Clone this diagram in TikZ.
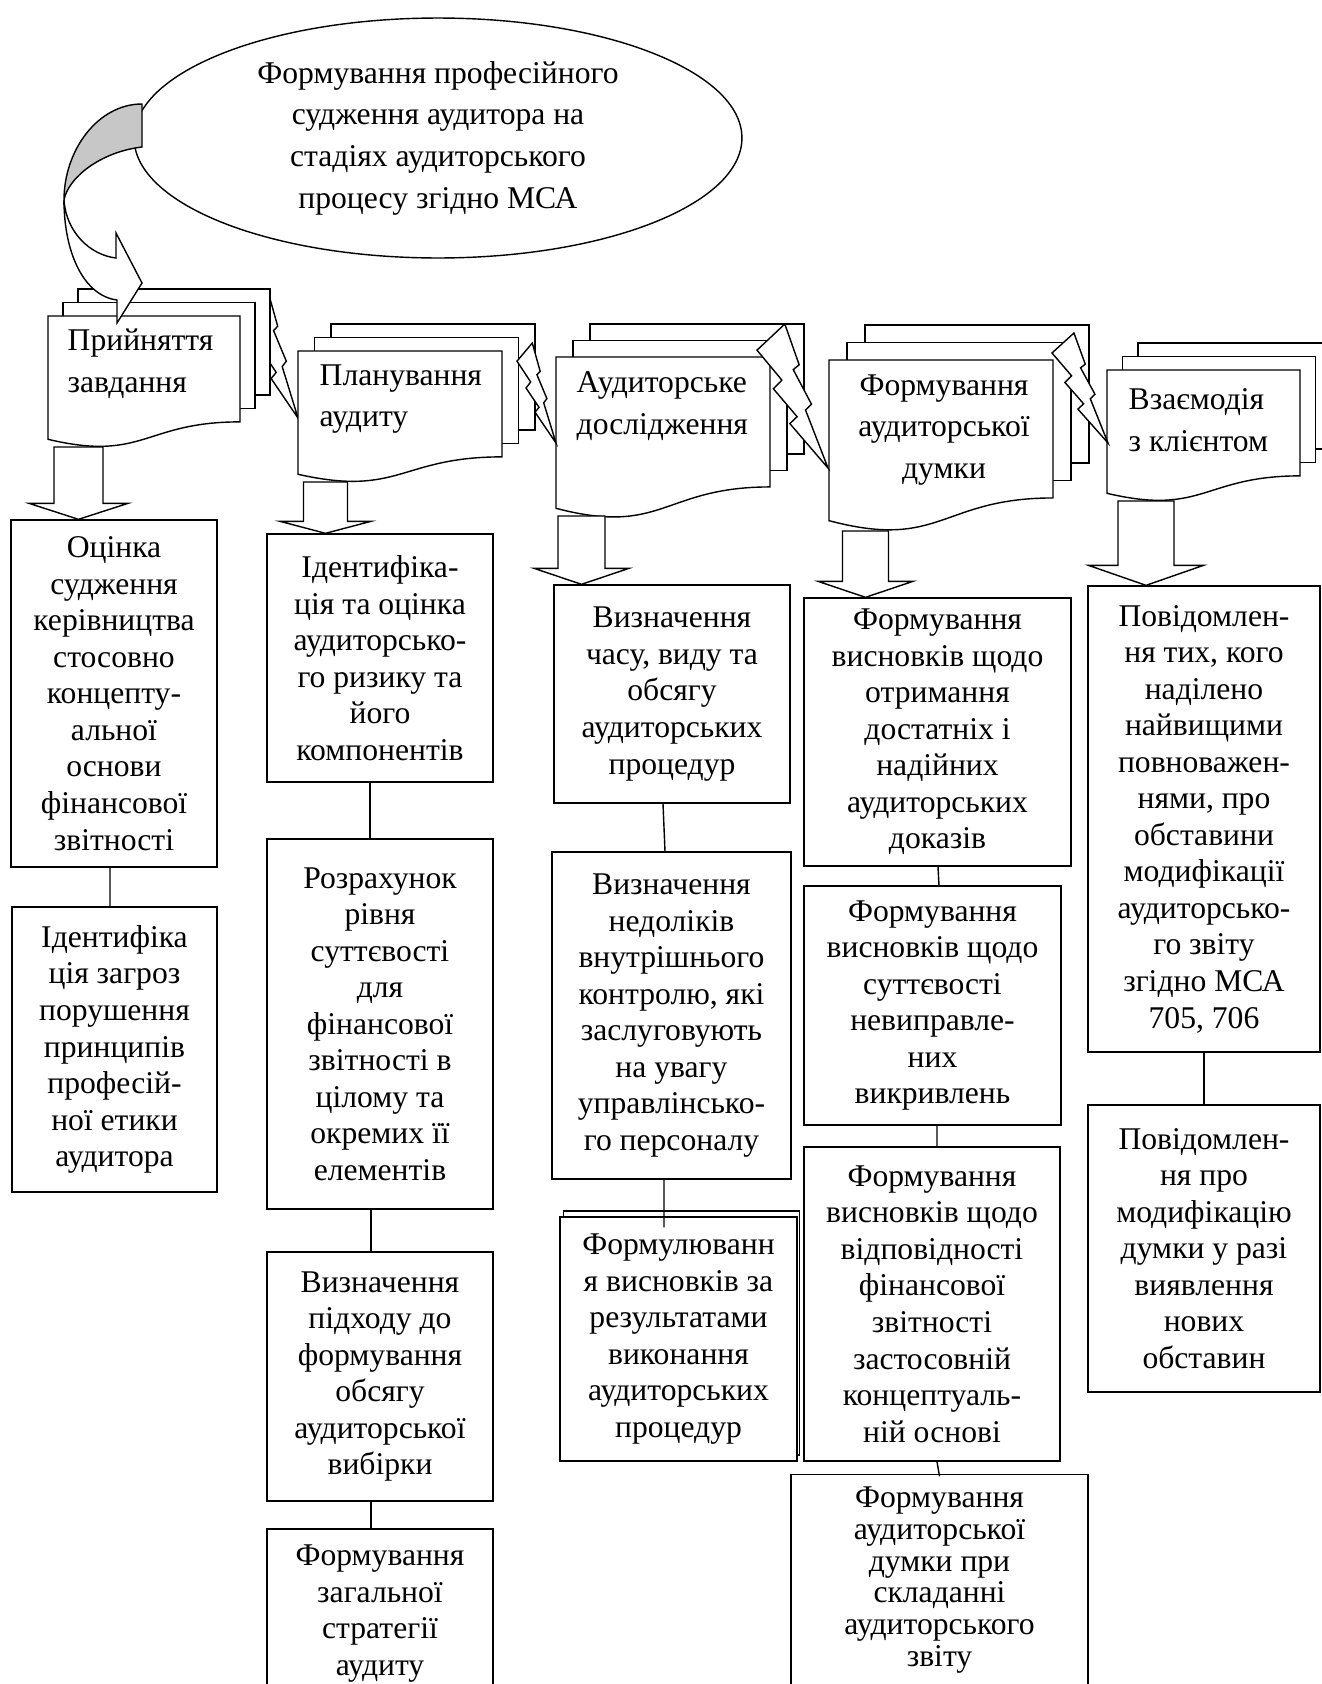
\documentclass[tikz,border=0pt]{standalone}
\usepackage{fontspec}
\setmainfont{Liberation Serif}
\usetikzlibrary{shapes.geometric,calc}

\tikzset{
  box/.style={draw, fill=white, align=center, inner sep=1pt, font=\fontsize{18}{20.8}\selectfont},
  sheet/.style={draw, fill=white},
  htext/.style={inner sep=0pt, font=\fontsize{18}{23.7}\selectfont},
  boltline/.style={draw, fill=white},
  blockarr/.style n args={3}{draw, fill=white,
    to path={let \p1=(\tikztostart), \p2=(\tikztotarget) in
      (\x1-#1,\y1) -- (\x1+#1,\y1) -- (\x1+#1,\y2+#3) -- (\x1+#2,\y2+#3) -- (\x1,\y2)
      -- (\x1-#2,\y2+#3) -- (\x1-#1,\y2+#3) -- cycle}}
}

% stack of sheets: name, left, top, width, height, dx, dy
\newcommand{\docstack}[7]{%
  \foreach \sh in {2,1}
    \draw[sheet] (#2+\sh*#6,#3-\sh*#7) rectangle (#2+#4+\sh*#6,#3+0.802*#5-\sh*#7);
  \draw[sheet] (#2,#3) -- (#2+#4,#3) -- (#2+#4,#3+0.802*#5)
    .. controls (#2+0.5*#4,#3+0.802*#5) and (#2+0.5*#4,#3+1.1075*#5) .. (#2,#3+0.934*#5) -- cycle;
  \coordinate (#1) at (#2,#3);
}

% lightning: left, top, width, height
\newcommand{\lightning}[4]{%
  \draw[boltline] (#1+0.3916*#3,#2) -- (#1,#2+0.1816*#4) -- (#1+0.3502*#3,#2+0.3896*#4)
    -- (#1+0.2312*#3,#2+0.45*#4) -- (#1+0.5647*#3,#2+0.6437*#4) -- (#1+0.4624*#3,#2+0.6914*#4)
    -- (#1+#3,#2+#4) -- (#1+0.6837*#3,#2+0.5977*#4) -- (#1+0.7666*#3,#2+0.5563*#4)
    -- (#1+0.5106*#3,#2+0.3167*#4) -- (#1+0.594*#3,#2+0.2833*#4) -- cycle;
}

\begin{document}
\begin{tikzpicture}[x=0.02cm, y=-0.02cm, line width=0.8pt]
  \useasboundingbox (0,0) rectangle (1322,1684);
  \clip (0,0) rectangle (1322,1684);

  \node[ellipse, draw, inner sep=0pt, minimum width=12.16cm, minimum height=4.8cm,
    align=center, font=\fontsize{18}{23.7}\selectfont] (goal) at (438,138)
    {Формування професійного\\судження аудитора на\\стадіях аудиторського\\процесу згідно МСА};

  \lightning{248}{290}{50}{128}
  \docstack{h1}{48}{316}{192}{132}{15}{13.5}
  \docstack{h2}{298}{351}{204}{132}{16.5}{13.5}
  \docstack{h3}{556}{357}{214}{162}{17}{16.5}
  \docstack{h4}{829}{360}{224}{172}{18}{17.5}
  \docstack{h5}{1107}{370}{193}{132}{15.5}{13.5}
  \lightning{517}{343}{39}{100}
  \lightning{757}{324}{71}{144}
  \lightning{1052}{333}{56}{110}

  \node[htext, anchor=west, align=left] (t1) at (67,364) {Прийняття\\завдання};
  \node[htext, anchor=west, align=left] (t2) at (319,399) {Планування\\аудиту};
  \node[htext, anchor=west, align=left] (t3) at (576,406) {Аудиторське\\дослідження};
  \node[htext, align=center] (t4) at (944,430) {Формування\\аудиторської\\думки};
  \node[htext, anchor=west, align=left] (t5) at (1128,420) {Взаємодія\\з клієнтом};

  \draw[fill=black!22] (142,104) .. controls (98,104) and (64,150) .. (64,200)
    .. controls (68,178) and (100,152) .. (142,147) -- cycle;
  \draw[fill=white] (64,200) .. controls (66,232) and (90,255) .. (116,258) -- (116,233)
    -- (142,283) -- (117,323) -- (117,300) .. controls (85,296) and (64,255) .. (64,200) -- cycle;

  \node[box, minimum width=4.12cm, minimum height=6.94cm] (c1a) at (114,693.5)
    {Оцінка\\судження\\керівництва\\стосовно\\концепту-\\альної\\основи\\фінансової\\звітності};
  \node[box, minimum width=4.10cm, minimum height=5.70cm] (c1b) at (114.5,1049.5)
    {Ідентифіка\\ція загроз\\порушення\\принципів\\професій-\\ної етики\\аудитора};

  \node[box, minimum width=4.52cm, minimum height=4.96cm] (c2a) at (380,658)
    {Ідентифіка-\\ція та оцінка\\аудиторсько-\\го ризику та\\його\\компонентів};
  \node[box, minimum width=4.52cm, minimum height=7.40cm] (c2b) at (380,1024)
    {Розрахунок\\рівня\\суттєвості\\для\\фінансової\\звітності в\\цілому та\\окремих її\\елементів};
  \node[box, minimum width=4.52cm, minimum height=4.98cm] (c2c) at (380,1376.5)
    {Визначення\\підходу до\\формування\\обсягу\\аудиторської\\вибірки};
  \node[box, minimum width=4.52cm, minimum height=3.38cm] (c2d) at (380,1613.5)
    {Формування\\загальної\\стратегії\\аудиту};

  \node[box, minimum width=4.72cm, minimum height=4.36cm] (c3a) at (672,694)
    {Визначення\\часу, виду та\\обсягу\\аудиторських\\процедур};
  \node[box, minimum width=4.78cm, minimum height=6.54cm] (c3b) at (671.5,1015.5)
    {Визначення\\недоліків\\внутрішнього\\контролю, які\\заслуговують\\на увагу\\управлінсько-\\го персоналу};
  \node[box, minimum width=4.72cm, minimum height=4.88cm] (c3cb) at (681.5,1333) {};
  \node[box, minimum width=4.74cm, minimum height=4.88cm] (c3c) at (678.5,1339)
    {Формулюванн\\я висновків за\\результатами\\виконання\\аудиторських\\процедур};

  \node[box, minimum width=5.34cm, minimum height=5.36cm] (c4a) at (937.5,732)
    {Формування\\висновків щодо\\отримання\\достатніх і\\надійних\\аудиторських\\доказів};
  \node[box, minimum width=5.14cm, minimum height=4.78cm] (c4b) at (932.5,1005.5)
    {Формування\\висновків щодо\\суттєвості\\невиправле-\\них\\викривлень};
  \node[box, minimum width=5.12cm, minimum height=6.28cm] (c4c) at (932,1304)
    {Формування\\висновків щодо\\відповідності\\фінансової\\звітності\\застосовній\\концептуаль-\\ній основі};
  \node[box, minimum width=5.94cm, minimum height=4.22cm, font=\fontsize{18}{18}\selectfont] (c4d) at (939.5,1580)
    {Формування\\аудиторської\\думки при\\складанні\\аудиторського\\звіту};

  \node[box, minimum width=4.64cm, minimum height=9.32cm] (c5a) at (1204,819)
    {Повідомлен-\\ня тих, кого\\наділено\\найвищими\\повноважен-\\нями, про\\обставини\\модифікації\\аудиторсько-\\го звіту\\згідно МСА\\705, 706};
  \node[box, minimum width=4.64cm, minimum height=5.74cm] (c5b) at (1204,1248.5)
    {Повідомлен-\\ня про\\модифікацію\\думки у разі\\виявлення\\нових\\обставин};

  \coordinate (a1) at (78.5,447);
  \coordinate (a2) at (325.5,482);
  \coordinate (a3) at (581.5,516);
  \coordinate (a4) at (865.5,531);
  \coordinate (a5) at (1146,501);
  \draw[blockarr={0.49cm}{0.99cm}{0.32cm}] (a1) to (a1 |- c1a.north);
  \draw[blockarr={0.44cm}{0.91cm}{0.24cm}] (a2) to (a2 |- c2a.north);
  \draw[blockarr={0.47cm}{0.95cm}{0.32cm}] (a3) to (a3 |- c3a.north);
  \draw[blockarr={0.46cm}{0.95cm}{0.32cm}] (a4) to (a4 |- c4a.north);
  \draw[blockarr={0.56cm}{1.15cm}{0.40cm}] (a5) to (a5 |- c5a.north);

  \draw ([xshift=-0.08cm]c1a.south) -- ([xshift=-0.09cm]c1b.north);
  \draw ([xshift=-0.2cm]c2a.south) -- ([xshift=-0.2cm]c2b.north);
  \draw ([xshift=-0.18cm]c2b.south) -- ([xshift=-0.18cm]c2c.north);
  \draw ([xshift=-0.18cm]c2c.south) -- ([xshift=-0.18cm]c2d.north);
  \draw ([xshift=-0.18cm]c3a.south) -- ([xshift=-0.13cm]c3b.north);
  \draw ([xshift=-0.15cm]c3b.south) -- ([xshift=-0.29cm,yshift=-0.22cm]c3c.north);
  \draw ([xshift=0.01cm]c4a.south) -- ([xshift=0.13cm]c4b.north);
  \draw ([xshift=0.09cm]c4b.south) -- ([xshift=0.1cm]c4c.north);
  \draw ([xshift=0.1cm]c4c.south) -- ([yshift=-0.05cm]c4d.north);
  \draw (c5a.south) -- (c5b.north);
\end{tikzpicture}
\end{document}
